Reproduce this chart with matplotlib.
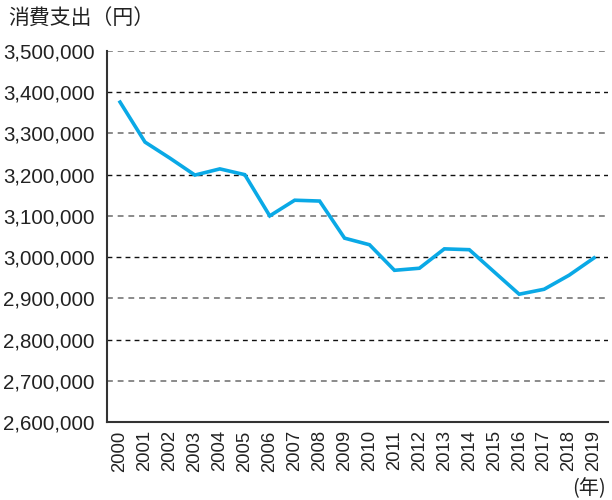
import matplotlib
matplotlib.use("Agg")
import matplotlib.pyplot as plt
from matplotlib.ticker import FuncFormatter

plt.rcParams['font.family'] = ['Liberation Sans', 'Noto Sans CJK JP', 'DejaVu Sans']

years = [str(y) for y in range(2000, 2020)]
spending = [3376000, 3279000, 3240000, 3199000, 3214000, 3200000, 3100000,
            3138000, 3136000, 3046000, 3030000, 2968000, 2973000, 3020000,
            3018000, 2964000, 2910000, 2922000, 2956000, 2998000]
grid_values = list(range(2600000, 3500001, 100000))

fig = plt.figure(figsize=(6.12, 5.0), dpi=100)
ax = fig.add_axes([0.175, 0.156, 0.818, 0.742])

# alternating grey / black dashed gridlines
for i, v in enumerate(grid_values[1:]):
    if i % 2 == 0:
        ax.axhline(v, color='#8a8a8a', lw=1.4, ls=(0, (3, 2.5)), zorder=1)
    else:
        ax.axhline(v, color='#111111', lw=1.0, ls=(0, (3.5, 3)), zorder=1)

x = list(range(len(years)))
ax.plot(x, spending, color='#0aa9e6', lw=2.6, zorder=3, solid_joinstyle='miter')

ax.set_xlim(-0.52, 19.55)
ax.set_ylim(2600000, 3500000)
ax.set_yticks(grid_values)
ax.yaxis.set_major_formatter(FuncFormatter(lambda v, p: f"{int(v):,}"))
ax.set_xticks(x)
ax.set_xticklabels(years, rotation=90)
ax.tick_params(axis='y', length=0, pad=9, labelsize=14.8, colors='#222222')
ax.tick_params(axis='x', length=0, pad=6, labelsize=13.3, colors='#222222')

for s in ['top', 'right']:
    ax.spines[s].set_visible(False)
for s in ['left', 'bottom']:
    ax.spines[s].set_color('#333333')
    ax.spines[s].set_linewidth(1.5)

fig.text(0.013, 0.963, '消費支出（円）', fontsize=15, color='#222222',
         family=['Noto Sans CJK JP', 'DejaVu Sans'], va='center', ha='left')
fig.text(0.99, 0.022, '(年)', fontsize=14.5, color='#222222',
         family=['Noto Sans CJK JP', 'DejaVu Sans'], va='center', ha='right')

fig.savefig('out.png', dpi=100)
